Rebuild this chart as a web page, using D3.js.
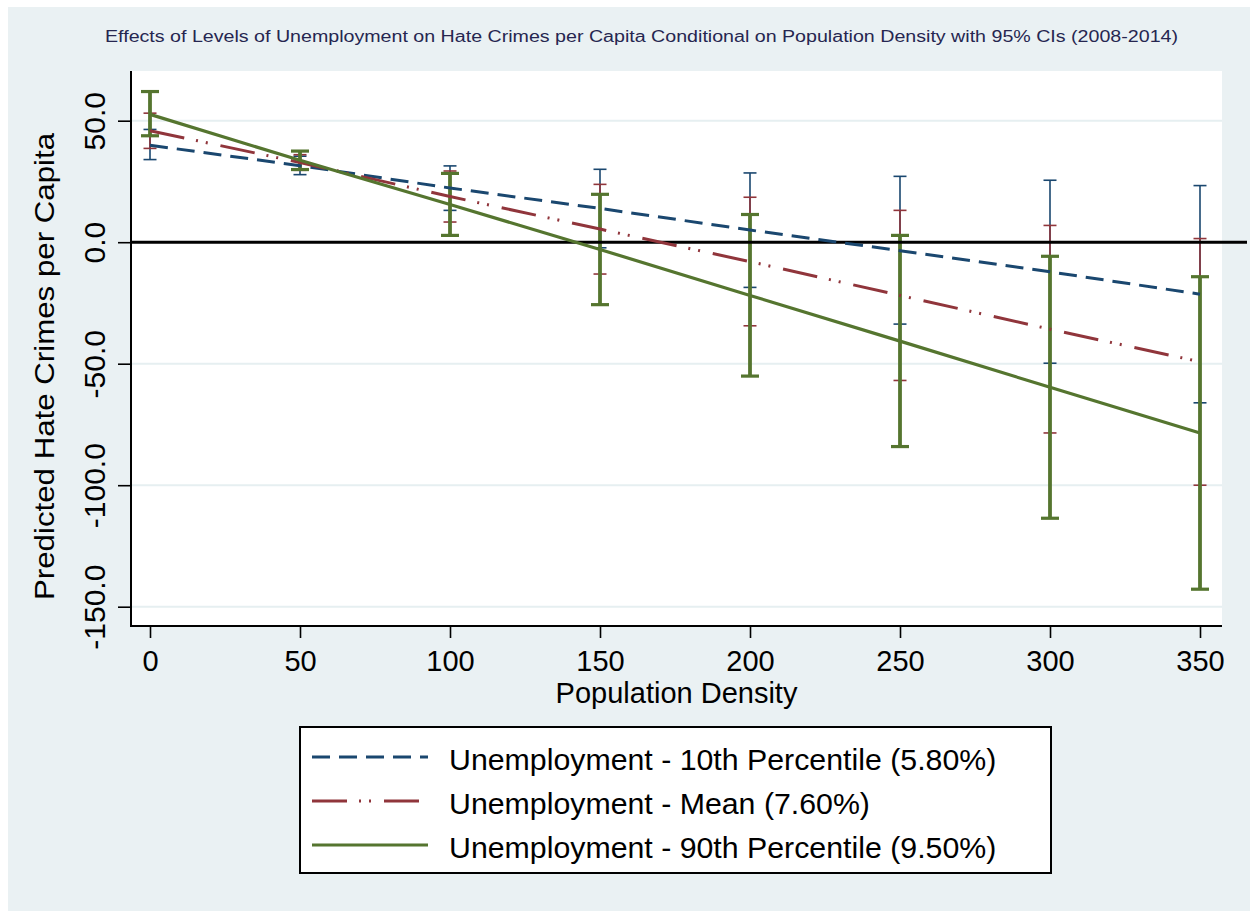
<!DOCTYPE html>
<html>
<head>
<meta charset="utf-8">
<script src="https://cdn.jsdelivr.net/npm/d3@7"></script>
<style>
  html, body { margin: 0; padding: 0; background: #ffffff; }
  svg { display: block; }
  text { font-family: "Liberation Sans", Arial, sans-serif; }
</style>
</head>
<body>
<svg id="chart" width="1250" height="911"></svg>
<script>
// Population density values at which margins were evaluated
const density = [0, 50, 100, 150, 200, 250, 300, 350];

// Predicted hate crimes per capita, with 95% confidence bounds
const low10Pred  = [39.9, 31.5, 22.3, 13.9, 5.0, -3.5, -12.2, -21.4];
const low10Lo    = [34.0, 27.8, 13.1, -2.3, -18.6, -33.7, -49.8, -66.1];
const low10Hi    = [46.4, 35.4, 31.4, 30.0, 28.5, 27.1, 25.5, 23.3];

const meanPred   = [45.9, 32.8, 18.8, 5.4, -8.0, -21.9, -35.8, -49.2];
const meanLo     = [38.6, 29.6, 8.3, -13.1, -34.4, -56.9, -78.5, -100.0];
const meanHi     = [53.1, 36.0, 29.3, 23.8, 18.5, 13.1, 6.9, 1.5];

const high90Pred = [52.6, 33.7, 15.5, -3.0, -21.9, -40.7, -59.7, -78.5];
const high90Lo   = [43.8, 29.9, 2.8, -25.7, -55.1, -84.1, -113.6, -142.8];
const high90Hi   = [62.0, 37.5, 28.3, 19.7, 11.4, 2.8, -5.8, -14.2];

const seriesNames = [
  "Unemployment - 10th Percentile (5.80%)",
  "Unemployment - Mean (7.60%)",
  "Unemployment - 90th Percentile (9.50%)"
];

const xTicks = [0, 50, 100, 150, 200, 250, 300, 350];
const yTicks = [50, 0, -50, -100, -150];

const titleText = "Effects of Levels of Unemployment on Hate Crimes per Capita Conditional on Population Density with 95% CIs (2008-2014)";
const xTitle = "Population Density";
const yTitle = "Predicted Hate Crimes per Capita";

// Series styling
const series = [
  { name: seriesNames[0], pred: low10Pred, lo: low10Lo, hi: low10Hi,
    color: "#1a476f", width: 3, dash: "18,9", ciWidth: 1.6, capW: 13, capT: 1.6 },
  { name: seriesNames[1], pred: meanPred, lo: meanLo, hi: meanHi,
    color: "#90353b", width: 3, dash: "35,12,2,8,2,13", ciWidth: 1.6, capW: 13, capT: 1.6 },
  { name: seriesNames[2], pred: high90Pred, lo: high90Lo, hi: high90Hi,
    color: "#55752f", width: 3.2, dash: null, ciWidth: 3.8, capW: 18, capT: 3.2 }
];

const svg = d3.select("#chart");

// Graph region background
svg.append("rect")
  .attr("x", 8).attr("y", 7)
  .attr("width", 1242).attr("height", 904)
  .attr("fill", "#eaf1f3");

// Plot region
const plot = { left: 131, right: 1222, top: 71, bottom: 626 };
svg.append("rect")
  .attr("x", plot.left).attr("y", plot.top)
  .attr("width", plot.right - plot.left).attr("height", plot.bottom - plot.top)
  .attr("fill", "#ffffff");

const x = d3.scaleLinear().domain([0, 350]).range([150, 1200]);
const y = d3.scaleLinear().domain([50, -150]).range([120.7, 606.7]);

// Horizontal gridlines
svg.append("g").selectAll("line")
  .data(yTicks)
  .join("line")
  .attr("x1", plot.left).attr("x2", plot.right)
  .attr("y1", d => y(d)).attr("y2", d => y(d))
  .attr("stroke", "#e6eff1").attr("stroke-width", 2);

// Title
svg.append("text")
  .attr("x", 105).attr("y", 41.5)
  .attr("font-size", 16)
  .attr("fill", "#262650")
  .attr("textLength", 1073)
  .attr("lengthAdjust", "spacingAndGlyphs")
  .text(titleText);

// Y axis
const yAxis = d3.axisLeft(y)
  .tickValues(yTicks)
  .tickSize(13)
  .tickSizeOuter(0)
  .tickFormat(d => d.toFixed(1));
const gy = svg.append("g")
  .attr("transform", `translate(${plot.left},0)`)
  .call(yAxis);
gy.select(".domain").remove();
gy.selectAll(".tick line").attr("stroke", "#000").attr("stroke-width", 1.6);
gy.selectAll(".tick text")
  .attr("transform", "rotate(-90)")
  .attr("x", 0).attr("y", -26).attr("dy", 0)
  .attr("text-anchor", "middle")
  .attr("font-size", 30)
  .attr("font-family", "Liberation Sans, Arial, sans-serif")
  .attr("fill", "#000");

// X axis
const xAxis = d3.axisBottom(x)
  .tickValues(xTicks)
  .tickSize(12)
  .tickSizeOuter(0)
  .tickFormat(d3.format("d"));
const gx = svg.append("g")
  .attr("transform", `translate(0,${plot.bottom})`)
  .call(xAxis);
gx.select(".domain").remove();
gx.selectAll(".tick line").attr("stroke", "#000").attr("stroke-width", 1.6);
gx.selectAll(".tick text")
  .attr("y", 45).attr("dy", 0)
  .attr("font-size", 29)
  .attr("font-family", "Liberation Sans, Arial, sans-serif")
  .attr("fill", "#000");

// Axis lines
svg.append("line")
  .attr("x1", plot.left).attr("x2", plot.left)
  .attr("y1", plot.top).attr("y2", plot.bottom + 1)
  .attr("stroke", "#000").attr("stroke-width", 2);
svg.append("line")
  .attr("x1", plot.left).attr("x2", plot.right)
  .attr("y1", plot.bottom).attr("y2", plot.bottom)
  .attr("stroke", "#000").attr("stroke-width", 2);

// Axis titles
svg.append("text")
  .attr("x", (plot.left + plot.right) / 2).attr("y", 703)
  .attr("text-anchor", "middle")
  .attr("font-size", 29)
  .attr("fill", "#000")
  .text(xTitle);

svg.append("text")
  .attr("transform", "translate(54,366.5) rotate(-90)")
  .attr("text-anchor", "middle")
  .attr("font-size", 28)
  .attr("fill", "#000")
  .attr("textLength", 467)
  .attr("lengthAdjust", "spacingAndGlyphs")
  .text(yTitle);

// Confidence intervals (drawn beneath the prediction lines)
series.forEach(s => {
  const g = svg.append("g");
  g.selectAll("line.ci")
    .data(density)
    .join("line")
    .attr("class", "ci")
    .attr("x1", d => x(d)).attr("x2", d => x(d))
    .attr("y1", (d, i) => y(s.hi[i])).attr("y2", (d, i) => y(s.lo[i]))
    .attr("stroke", s.color).attr("stroke-width", s.ciWidth);
  ["hi", "lo"].forEach(k => {
    g.selectAll("line.cap-" + k)
      .data(density)
      .join("line")
      .attr("class", "cap-" + k)
      .attr("x1", d => x(d) - s.capW / 2).attr("x2", d => x(d) + s.capW / 2)
      .attr("y1", (d, i) => y(s[k][i])).attr("y2", (d, i) => y(s[k][i]))
      .attr("stroke", s.color).attr("stroke-width", s.capT);
  });
});

// Reference line at zero
svg.append("line")
  .attr("x1", plot.left).attr("x2", 1247)
  .attr("y1", y(0)).attr("y2", y(0))
  .attr("stroke", "#000").attr("stroke-width", 3);

// Prediction lines
const line = d3.line()
  .x((d, i) => x(density[i]))
  .y(d => y(d));
series.forEach(s => {
  svg.append("path")
    .datum(s.pred)
    .attr("d", line)
    .attr("fill", "none")
    .attr("stroke", s.color)
    .attr("stroke-width", s.width)
    .attr("stroke-dasharray", s.dash);
});

// Legend
const legend = svg.append("g");
legend.append("rect")
  .attr("x", 300).attr("y", 727)
  .attr("width", 751).attr("height", 146)
  .attr("fill", "#ffffff")
  .attr("stroke", "#000").attr("stroke-width", 2);
const rowY = [757, 801, 845];
series.forEach((s, i) => {
  legend.append("line")
    .attr("x1", 312).attr("x2", 428)
    .attr("y1", rowY[i]).attr("y2", rowY[i])
    .attr("stroke", s.color)
    .attr("stroke-width", s.width)
    .attr("stroke-dasharray", s.dash);
  legend.append("text")
    .attr("x", 449).attr("y", rowY[i] + 13)
    .attr("font-size", 30.3)
    .attr("fill", "#000")
    .text(s.name);
});
</script>
</body>
</html>
